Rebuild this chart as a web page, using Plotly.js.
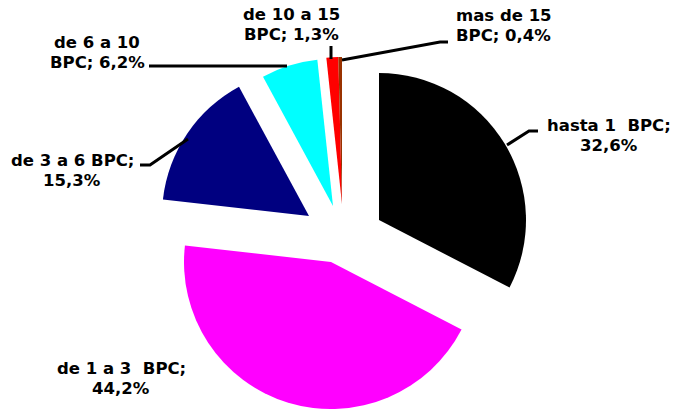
<!DOCTYPE html>
<html><head><meta charset="utf-8">
<script src="https://cdn.plot.ly/plotly-3.0.1.min.js"></script>
<style>html,body{margin:0;padding:0;background:#fff}</style>
</head><body><div id="chart" style="width:674px;height:409px"></div>
<script>
// ---- data ----
const categories = ["hasta 1  BPC", "de 1 a 3  BPC", "de 3 a 6 BPC", "de 6 a 10 BPC", "de 10 a 15 BPC", "mas de 15 BPC"];
const shares = [32.6, 44.2, 15.3, 6.2, 1.3, 0.4];

// ---- style / layout ----
const colors = ["#000000", "#FF00FF", "#000080", "#00FFFF", "#FF0000", "#993300"];
const W = 674, H = 409, R = 147;
// exploded position (px) of each slice's apex
const sliceCenters = [[379, 220], [331, 262], [309, 216], [333, 206], [342, 204], [342, 204]];
const firstLineWords = [4, 6, 5, 4, 4, 3];
const labelPos = [[609, 135], [121, 378], [72, 170], [97, 53], [291, 24], [504, 25]];
const lineGap = 20;
const leaders = [
  [[538, 131], [529, 131], [507, 145]],
  null,
  [[140, 165], [150, 165], [188, 139]],
  [[149, 66], [287, 66]],
  [[331, 46], [331, 59]],
  [[342, 60], [440, 42], [448, 42]]
];

const px = x => x / W, py = y => 1 - y / H;

const traces = categories.map((c, i) => {
  const [cx, cy] = sliceCenters[i];
  return {
    type: 'pie',
    values: shares,
    labels: categories,
    sort: false,
    direction: 'clockwise',
    rotation: 0,
    marker: {colors: colors.map((col, j) => j === i ? col : 'rgba(0,0,0,0)'), line: {width: 0}},
    textinfo: 'none',
    hoverinfo: 'skip',
    showlegend: false,
    domain: {x: [px(cx - R), px(cx + R)], y: [py(cy + R), py(cy - R)]}
  };
});

const fmt = v => v.toFixed(1).replace('.', ',') + '%';
const annotations = [];
categories.forEach((c, i) => {
  const tokens = (c + '; ' + fmt(shares[i])).split(' ');
  const lines = [
    tokens.slice(0, firstLineWords[i]).join(' ').replace(/  /g, '\u00A0 '),
    tokens.slice(firstLineWords[i]).join(' ')
  ];
  lines.forEach((t, k) => annotations.push({
    xref: 'paper', yref: 'paper', x: px(labelPos[i][0]), y: py(labelPos[i][1] + (k - 0.5) * lineGap),
    xanchor: 'center', yanchor: 'middle', showarrow: false, align: 'center',
    text: t,
    font: {family: 'DejaVu Sans', size: 16.5, color: '#000', weight: 'bold'}
  }));
});

const shapes = leaders.filter(Boolean).map(pts => ({
  type: 'path', xref: 'paper', yref: 'paper',
  path: pts.map((p, k) => (k ? 'L' : 'M') + px(p[0]) + ',' + py(p[1])).join(' '),
  line: {color: '#000', width: 3}
}));

Plotly.newPlot('chart', traces, {
  width: W, height: H, autosize: false,
  margin: {l: 0, r: 0, t: 0, b: 0},
  paper_bgcolor: '#fff', plot_bgcolor: '#fff',
  annotations, shapes
}, {staticPlot: true, displayModeBar: false});
</script></body></html>
